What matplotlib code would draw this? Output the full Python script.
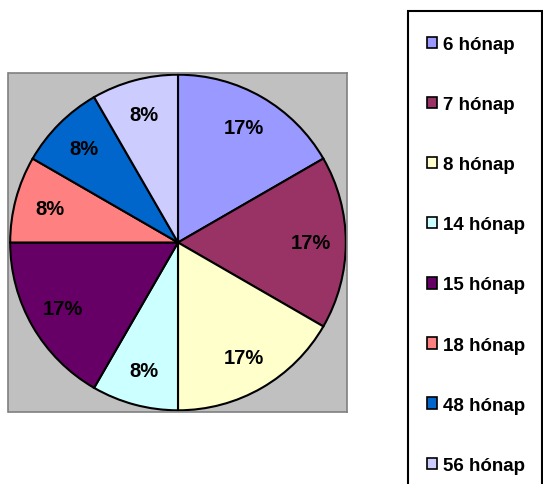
#pie of the months distribution, Excel-like look
import matplotlib.pyplot as plt
from matplotlib.patches import Rectangle

labels = ['6 hónap', '7 hónap', '8 hónap', '14 hónap',
          '15 hónap', '18 hónap', '48 hónap', '56 hónap']
counts = [2, 2, 2, 1, 2, 1, 1, 1]
colors = ['#9999FF', '#993366', '#FFFFCC', '#CCFFFF',
          '#660066', '#FF8080', '#0066CC', '#CCCCFF']

plt.rcParams['font.family'] = ['Liberation Sans', 'DejaVu Sans']

W, H = 543, 485
fig = plt.figure(figsize=(W/100, H/100), dpi=100)

# gray plot area
ax = fig.add_axes([8/W, (H-413)/H, 340/W, 339/H])

wedges, texts, autotexts = ax.pie(counts, colors=colors, startangle=90, counterclock=False,
                                  autopct=lambda p: '%.0f%%' % p, pctdistance=0.79,
                                  wedgeprops=dict(edgecolor='black', linewidth=1.5),
                                  textprops=dict(fontsize=14.5, fontweight='bold', color='black'))
ax.set_frame_on(True)
ax.set_facecolor('#C0C0C0')
for s in ax.spines.values():
    s.set_color('#808080')
    s.set_linewidth(1.2)
ax.set_xlim(-1.01, 1.01)
ax.set_ylim(-1.01, 1.01)
ax.set_aspect('equal')
ax.set_xticks([])
ax.set_yticks([])

# legend box (runs off the bottom and right edge)
fig.patches.append(Rectangle((408/W, -0.05), 134/W, (H-12)/H + 0.05,
                             transform=fig.transFigure, facecolor='white',
                             edgecolor='black', linewidth=1.5))

leg = fig.legend(wedges, labels, loc='upper left', bbox_to_anchor=(427/W, (H-37)/H),
                 frameon=False, prop=dict(size=13.5, weight='bold'), borderpad=0,
                 borderaxespad=0,
                 handlelength=0.55, handleheight=0.55, handletextpad=0.3,
                 labelspacing=2.3)
for h in leg.legend_handles:
    h.set_linewidth(1.2)

fig.savefig('out.png', dpi=100)
